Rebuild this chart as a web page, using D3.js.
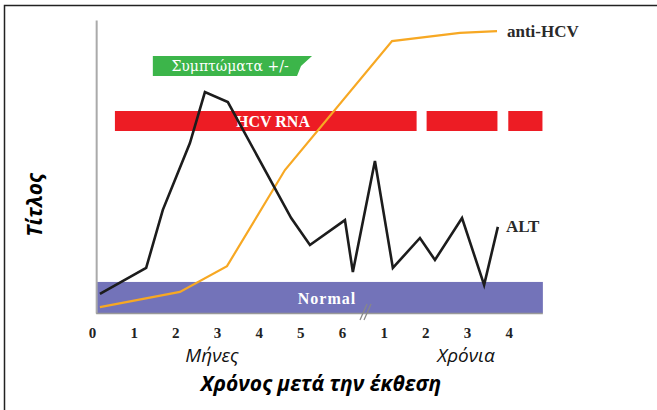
<!DOCTYPE html>
<html>
<head>
<meta charset="utf-8">
<script src="https://cdn.jsdelivr.net/npm/d3@7"></script>
<style>
  body { margin: 0; background: #fff; }
  svg { display: block; }
</style>
</head>
<body>
<div id="chart"></div>
<script>
// tick positions (index along the time axis) and their labels
const tickIndex = [0, 1, 2, 3, 4, 5, 6, 7, 8, 9, 10];
const tickLabels = ["0", "1", "2", "3", "4", "5", "6", "1", "2", "3", "4"];

// ALT curve
const altX = [0.19, 1.30, 1.70, 2.35, 2.71, 3.26, 4.78, 5.23, 6.07, 6.26, 6.79, 7.22, 7.87, 8.23, 8.88, 9.41, 9.74];
const altY = [6.5, 15.4, 35.2, 58.0, 75.4, 72.0, 32.4, 23.2, 31.7, 14.0, 51.9, 15.4, 25.6, 18.1, 32.4, 9.6, 29.4];

// anti-HCV curve
const hcvX = [0.19, 2.11, 3.24, 4.63, 7.20, 8.83, 9.72];
const hcvY = [2.0, 7.2, 16.0, 48.8, 92.8, 95.6, 96.2];

// HCV RNA periods
const rnaStart = [0.55, 8.03, 9.99];
const rnaEnd = [7.79, 9.73, 10.81];

// symptoms period
const sympStart = 1.46;
const sympEnd = 4.92;

// normal range of ALT
const normalMax = 10.6;
const axisMin = 0.1, axisMax = 10.82;

const width = 657, height = 410;
const serif = "'Liberation Serif', 'DejaVu Serif', serif";
const sans = "'Open Sans', sans-serif";

const svg = d3.select("#chart").append("svg")
    .attr("width", width)
    .attr("height", height);

// frame
svg.append("rect")
    .attr("x", 4.5).attr("y", 5.5)
    .attr("width", 700).attr("height", 450)
    .attr("fill", "none")
    .attr("stroke", "#222")
    .attr("stroke-width", 1.5);

const x = d3.scaleLinear().domain([0, 10]).range([92, 508.7]);
const y = d3.scaleLinear().domain([0, 100]).range([313, 20]);

// normal band
svg.append("rect")
    .attr("x", x(axisMin))
    .attr("y", y(normalMax))
    .attr("width", x(axisMax) - x(axisMin))
    .attr("height", y(0) - y(normalMax))
    .attr("fill", "#7373b9");

svg.append("text")
    .attr("x", 327).attr("y", 304)
    .attr("text-anchor", "middle")
    .style("font-family", serif)
    .style("font-weight", "bold")
    .style("font-size", "16px")
    .style("letter-spacing", "1px")
    .attr("fill", "#fff")
    .text("Normal");

// y axis (no ticks)
svg.append("g")
    .attr("transform", `translate(${x(axisMin)},0)`)
    .call(d3.axisLeft(y).ticks(0).tickSizeOuter(0))
    .call(g => g.select(".domain").attr("stroke", "#aaa").attr("stroke-width", 2));

// x axis
const xAxis = svg.append("g")
    .attr("transform", `translate(0,${y(0)})`)
    .call(d3.axisBottom(x).tickValues(tickIndex).tickFormat((d, i) => tickLabels[i]).tickSize(0).tickPadding(14));
xAxis.select(".domain").remove();
xAxis.selectAll("text")
    .style("font-family", serif)
    .style("font-weight", "bold")
    .style("font-size", "15px")
    .attr("fill", "#222");

svg.append("line")
    .attr("x1", x(axisMin)).attr("x2", x(axisMax))
    .attr("y1", y(0) + 0.5).attr("y2", y(0) + 0.5)
    .attr("stroke", "#999")
    .attr("stroke-width", 1.5);

// axis break
[0, 4].forEach(o => {
    svg.append("line")
        .attr("x1", 360 + o).attr("y1", 320)
        .attr("x2", 367 + o).attr("y2", 304)
        .attr("stroke", "#888")
        .attr("stroke-width", 1.2);
});

// HCV RNA bars
svg.selectAll(".rna")
    .data(rnaStart)
    .enter().append("rect")
    .attr("class", "rna")
    .attr("x", (d, i) => x(d))
    .attr("y", 111)
    .attr("width", (d, i) => x(rnaEnd[i]) - x(d))
    .attr("height", 20)
    .attr("fill", "#ed1c24");

svg.append("text")
    .attr("x", 273).attr("y", 127)
    .attr("text-anchor", "middle")
    .style("font-family", serif)
    .style("font-weight", "bold")
    .style("font-size", "16px")
    .attr("fill", "#fff")
    .text("HCV RNA");

// symptoms flag
const sx0 = x(sympStart), sx1 = x(sympEnd);
svg.append("path")
    .attr("d", `M${sx0},56 L${sx1 + 15},56 L${sx1 + 4},66 L${sx1},76 L${sx0},76 Z`)
    .attr("fill", "#3cb54a");

svg.append("text")
    .attr("x", 230).attr("y", 71)
    .attr("text-anchor", "middle")
    .style("font-family", "'DejaVu Serif', serif")
    .style("font-size", "14px")
    .attr("fill", "#fff")
    .text("Συμπτώματα +/-");

// lines
const line = d3.line()
    .x(d => x(d[0]))
    .y(d => y(d[1]));

svg.append("path")
    .datum(hcvX.map((d, i) => [d, hcvY[i]]))
    .attr("d", line)
    .attr("fill", "none")
    .attr("stroke", "#f7a823")
    .attr("stroke-width", 2.2);

svg.append("path")
    .datum(altX.map((d, i) => [d, altY[i]]))
    .attr("d", line)
    .attr("fill", "none")
    .attr("stroke", "#1c1c1c")
    .attr("stroke-width", 2.6);

// series labels
svg.append("text")
    .attr("x", 507).attr("y", 37)
    .style("font-family", serif)
    .style("font-weight", "bold")
    .style("font-size", "17px")
    .attr("fill", "#2a2a2a")
    .text("anti-HCV");

svg.append("text")
    .attr("x", 506).attr("y", 232)
    .style("font-family", serif)
    .style("font-weight", "bold")
    .style("font-size", "17px")
    .attr("fill", "#2a2a2a")
    .text("ALT");

// axis titles
svg.append("text")
    .attr("x", 212).attr("y", 362)
    .attr("text-anchor", "middle")
    .style("font-family", sans)
    .style("font-style", "italic")
    .style("font-size", "19px")
    .attr("fill", "#111")
    .text("Μήνες");

svg.append("text")
    .attr("x", 466).attr("y", 362)
    .attr("text-anchor", "middle")
    .style("font-family", sans)
    .style("font-style", "italic")
    .style("font-size", "19px")
    .attr("fill", "#111")
    .text("Χρόνια");

svg.append("text")
    .attr("x", 321).attr("y", 391)
    .attr("text-anchor", "middle")
    .style("font-family", sans)
    .style("font-style", "italic")
    .style("font-weight", "bold")
    .style("font-size", "21px")
    .attr("fill", "#000")
    .text("Χρόνος μετά την έκθεση");

svg.append("text")
    .attr("transform", "translate(42,205) rotate(-90)")
    .attr("text-anchor", "middle")
    .style("font-family", sans)
    .style("font-style", "italic")
    .style("font-weight", "bold")
    .style("font-size", "21px")
    .attr("fill", "#000")
    .text("Τίτλος");
</script>
</body>
</html>
